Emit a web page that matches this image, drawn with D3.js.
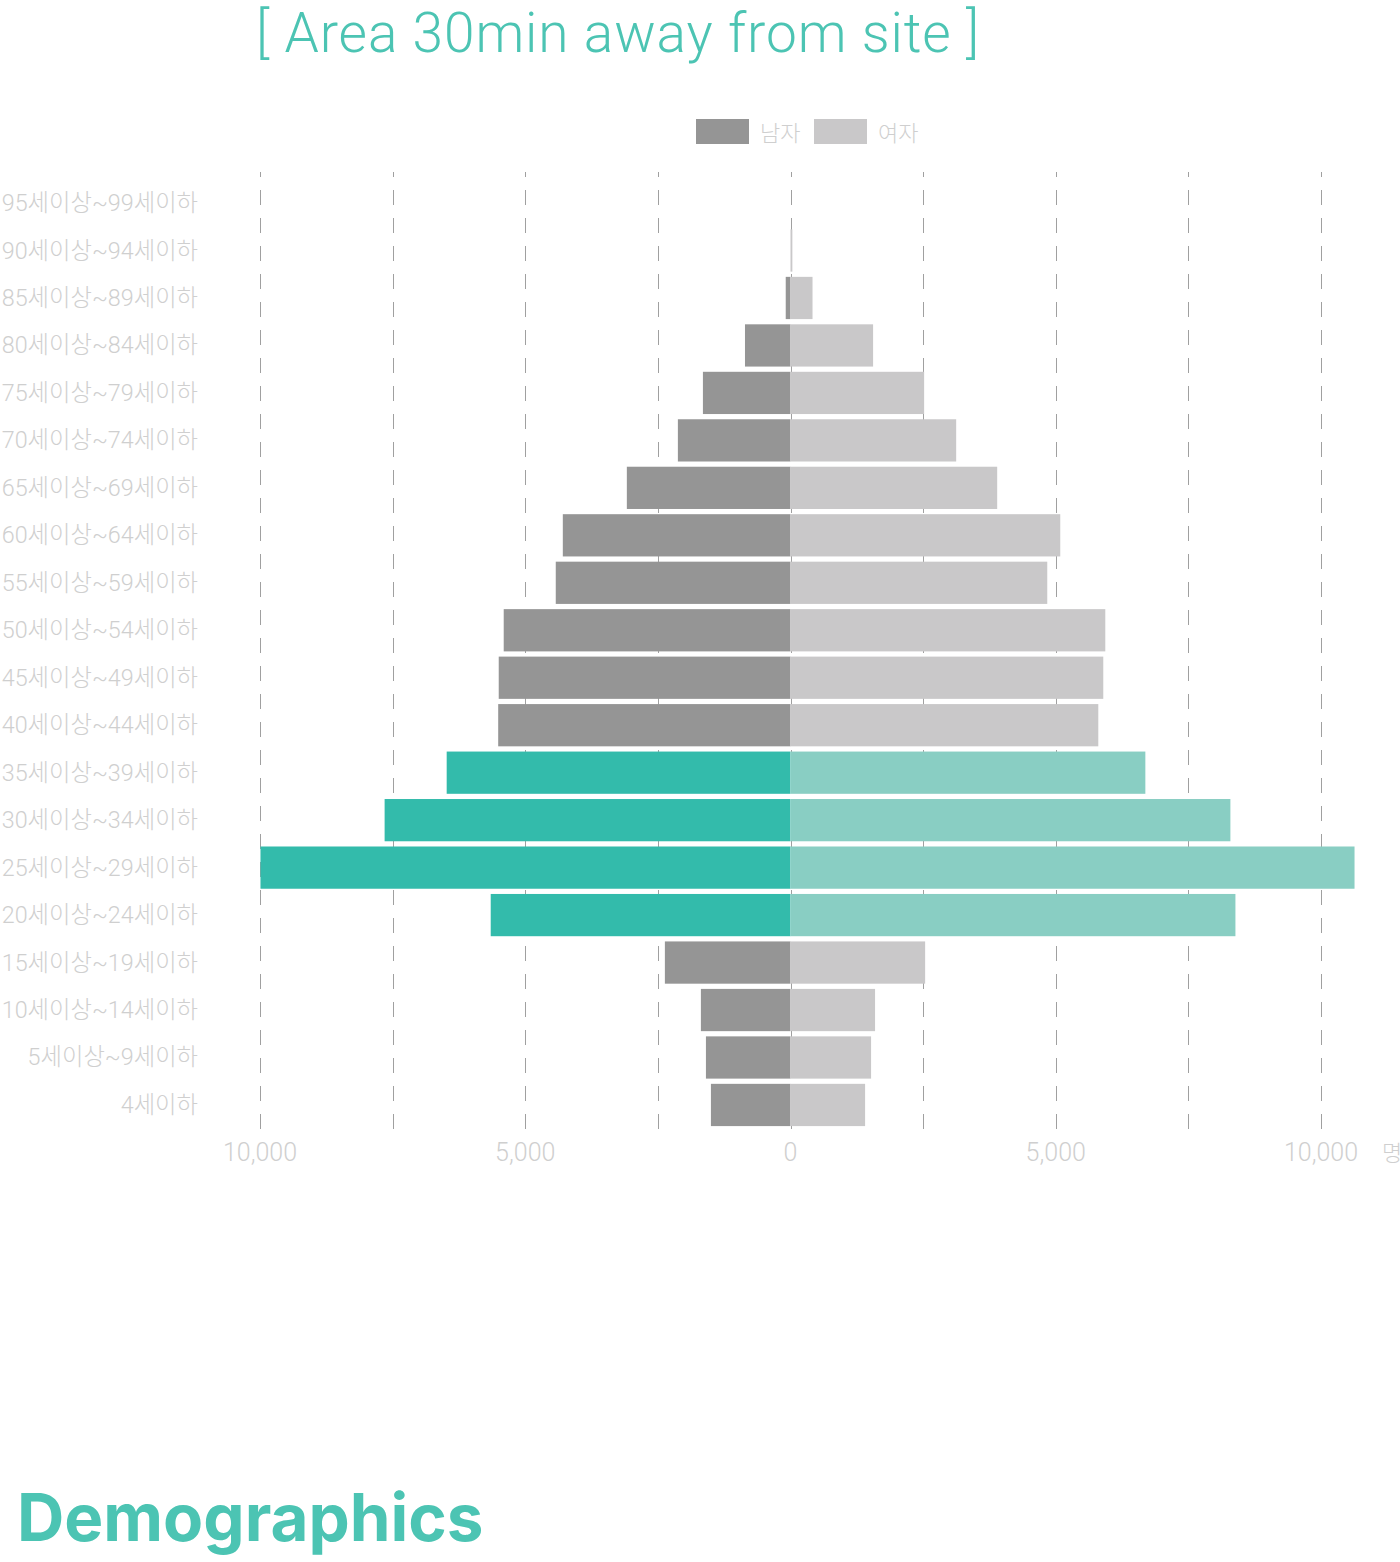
<!DOCTYPE html>
<html>
<head>
<meta charset="utf-8">
<script src="https://cdn.jsdelivr.net/npm/d3@7/dist/d3.min.js"></script>
<style>
  html, body { margin: 0; padding: 0; background: #fff; }
  svg { display: block; }
</style>
</head>
<body>
<svg id="chart" width="1400" height="1562"></svg>
<script>
const categories = ["95세이상~99세이하","90세이상~94세이하","85세이상~89세이하","80세이상~84세이하","75세이상~79세이하","70세이상~74세이하","65세이상~69세이하","60세이상~64세이하","55세이상~59세이하","50세이상~54세이하","45세이상~49세이하","40세이상~44세이하","35세이상~39세이하","30세이상~34세이하","25세이상~29세이하","20세이상~24세이하","15세이상~19세이하","10세이상~14세이하","5세이상~9세이하","4세이하"];
const maleValues   = [0, 0, 90, 858, 1651, 2123, 3085, 4292, 4425, 5406, 5500, 5510, 6481, 7651, 9991, 5651, 2368, 1689, 1594, 1500];
const femaleValues = [0, 35, 415, 1557, 2519, 3123, 3896, 5085, 4840, 5934, 5896, 5802, 6689, 8292, 10632, 8387, 2538, 1594, 1519, 1406];
const highlighted  = ["35세이상~39세이하","30세이상~34세이하","25세이상~29세이하","20세이상~24세이하"];
const tickValues   = [0, 5000, 10000];
const gridValues   = [0, 2500, 5000, 7500, 10000];
const seriesNames  = ["남자", "여자"];
const titleText = "[ Area 30min away from site ]";
const footerText = "Demographics";
const unitText = "명";

(function () {
const colors = {
  male: "#959595", female: "#c9c8c9",
  maleHi: "#33bbab", femaleHi: "#89cec3",
  teal: "#4cc4b3", label: "#cfcfcf", grid: "#a0a0a0"
};

const svg = d3.select("#chart");
const center = 790.5;
const half = 530.5;
const gridTop = 172, gridBottom = 1136;

const xs = d3.scaleLinear().domain([0, 10000]).range([0, half]);
const y = d3.scaleBand().domain(categories).range([179.3, 1128.7]).paddingInner(0.11).paddingOuter(0.055);

const fontStack = "Roboto, 'Noto Sans CJK KR', sans-serif";

// Title
svg.append("text").attr("x", 618).attr("y", 52).attr("text-anchor", "middle")
  .attr("font-family", fontStack).attr("font-size", 55).attr("font-weight", 300)
  .attr("letter-spacing", 0.9)
  .attr("fill", colors.teal).text(titleText);

// Legend
const legend = svg.append("g");
const legendItems = [
  {name: seriesNames[0], color: colors.male, x: 696},
  {name: seriesNames[1], color: colors.female, x: 814}
];
legendItems.forEach(d => {
  legend.append("rect").attr("x", d.x).attr("y", 119).attr("width", 53).attr("height", 25).attr("fill", d.color);
  legend.append("text").attr("x", d.x + 64).attr("y", 141)
    .attr("font-family", "'Noto Sans CJK KR', sans-serif").attr("font-size", 22).attr("font-weight", 300)
    .attr("fill", colors.label).text(d.name);
});

// Grid lines
const gridXs = [];
gridValues.forEach(v => {
  gridXs.push(center - xs(v));
  if (v !== 0) gridXs.push(center + xs(v));
});
svg.append("g").selectAll("line").data(gridXs).join("line")
  .attr("x1", d => Math.round(d) + 0.5).attr("x2", d => Math.round(d) + 0.5)
  .attr("y1", gridTop).attr("y2", gridBottom)
  .attr("stroke", colors.grid).attr("stroke-width", 1)
  .attr("stroke-dasharray", "15,13")
  .attr("stroke-dashoffset", 10);

// Bars
const data = categories.map((c, i) => ({cat: c, m: maleValues[i], f: femaleValues[i], hi: highlighted.includes(c)}));
svg.append("g").selectAll("rect").data(data).join("rect")
  .attr("x", d => center - xs(d.m)).attr("y", d => y(d.cat))
  .attr("width", d => xs(d.m)).attr("height", y.bandwidth())
  .attr("fill", d => d.hi ? colors.maleHi : colors.male);
svg.append("g").selectAll("rect").data(data).join("rect")
  .attr("x", center).attr("y", d => y(d.cat))
  .attr("width", d => xs(d.f)).attr("height", y.bandwidth())
  .attr("fill", d => d.hi ? colors.femaleHi : colors.female);

// Y labels
svg.append("g").selectAll("text").data(categories).join("text")
  .attr("x", 198).attr("y", d => y(d) + y.bandwidth() / 2 + 8)
  .attr("text-anchor", "end")
  .attr("font-family", fontStack).attr("font-size", 23.3).attr("font-weight", 300)
  .attr("fill", colors.label).text(d => d);

// X tick labels
const fmt = d3.format(",");
const xTicks = [];
tickValues.forEach(v => {
  xTicks.push({x: center - xs(v), v});
  if (v !== 0) xTicks.push({x: center + xs(v), v});
});
svg.append("g").selectAll("text").data(xTicks).join("text")
  .attr("x", d => d.x).attr("y", 1161).attr("text-anchor", "middle")
  .attr("font-family", fontStack).attr("font-size", 25).attr("font-weight", 300)
  .attr("fill", colors.label).text(d => fmt(d.v));
svg.append("text").attr("x", 1382).attr("y", 1161)
  .attr("font-family", "'Noto Sans CJK KR', sans-serif").attr("font-size", 22).attr("font-weight", 300)
  .attr("fill", colors.label).text(unitText);

// Footer
svg.append("text").attr("x", 17).attr("y", 1541)
  .attr("font-family", "Inter, Roboto, sans-serif").attr("font-size", 65.5).attr("font-weight", 700)
  .attr("fill", colors.teal).text(footerText);
})();
</script>
</body>
</html>
